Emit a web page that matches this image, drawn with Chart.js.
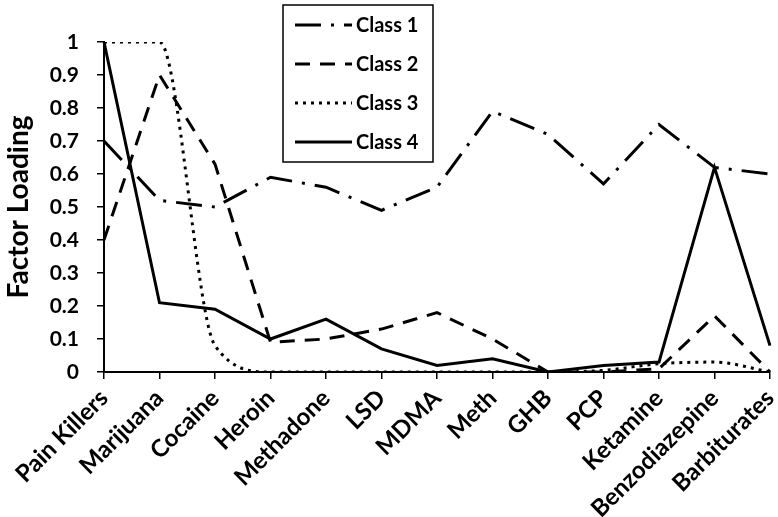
<!DOCTYPE html>
<html>
<head>
<meta charset="utf-8">
<script src="https://cdn.jsdelivr.net/npm/chart.js@4"></script>
<style>
  html, body { margin: 0; padding: 0; background: #fff; }
  #wrap { width: 778px; height: 517px; }
</style>
</head>
<body>
<div id="wrap"><canvas id="myChart" width="778" height="517"></canvas></div>
<script>
var drugs = ['Pain Killers', 'Marijuana', 'Cocaine', 'Heroin', 'Methadone', 'LSD', 'MDMA',
    'Meth', 'GHB', 'PCP', 'Ketamine', 'Benzodiazepine', 'Barbiturates'];
var class1 = [0.70, 0.52, 0.50, 0.59, 0.56, 0.49, 0.56, 0.79, 0.72, 0.57, 0.75, 0.62, 0.60];
var class2 = [0.40, 0.90, 0.63, 0.09, 0.10, 0.13, 0.18, 0.10, 0.00, 0.00, 0.01, 0.17, 0.00];
var class3 = [1.00, 1.00, 0.08, 0.00, 0.00, 0.00, 0.00, 0.00, 0.00, 0.005, 0.025, 0.03, 0.00];
var class4 = [1.00, 0.21, 0.19, 0.10, 0.16, 0.07, 0.02, 0.04, 0.00, 0.02, 0.03, 0.62, 0.08];

var fontName = 'Lato, "Open Sans", sans-serif';

// legend drawn as a box inside the plot, like the original
var boxLegend = {
    id: 'boxLegend',
    afterDraw: function (chart) {
        var c = chart.ctx;
        var x = 283, y = 5, w = 150, h = 157;
        c.save();
        c.fillStyle = '#fff';
        c.fillRect(x, y, w, h);
        c.strokeStyle = '#000';
        c.lineWidth = 1.5;
        c.strokeRect(x, y, w, h);
        chart.data.datasets.forEach(function (ds, i) {
            var ly = y + 20 + i * 39;
            c.beginPath();
            c.setLineDash(ds.borderDash || []);
            c.lineWidth = ds.borderWidth;
            c.strokeStyle = '#000';
            c.moveTo(x + 12, ly);
            c.lineTo(x + 69, ly);
            c.stroke();
            c.setLineDash([]);
            c.fillStyle = '#000';
            c.font = 'bold 20px ' + fontName;
            c.textBaseline = 'middle';
            c.fillText(ds.label, x + 73, ly + 1);
        });
        c.restore();
    }
};

var ctx = document.getElementById('myChart').getContext('2d');
var chart = new Chart(ctx, {
    type: 'line',
    data: {
        labels: drugs,
        datasets: [{
            label: 'Class 1',
            data: class1,
            borderColor: '#000',
            borderWidth: 3,
            borderDash: [26, 10, 3, 10]
        }, {
            label: 'Class 2',
            data: class2,
            borderColor: '#000',
            borderWidth: 3,
            borderDash: [15, 10]
        }, {
            label: 'Class 3',
            data: class3,
            borderColor: '#000',
            borderWidth: 3,
            borderDash: [3, 5],
            cubicInterpolationMode: 'monotone'
        }, {
            label: 'Class 4',
            data: class4,
            borderColor: '#000',
            borderWidth: 3
        }]
    },
    plugins: [boxLegend],
    options: {
        responsive: false,
        animation: false,
        layout: { padding: { top: 42, right: 8, left: 2, bottom: 0 } },
        elements: { point: { radius: 0 } },
        plugins: {
            legend: { display: false },
            tooltip: { enabled: false }
        },
        scales: {
            x: {
                offset: false,
                afterFit: function (scale) {
                    scale.height = 145;
                    scale.paddingRight = 0;
                    scale.paddingLeft = 0;
                },
                grid: { offset: false, drawOnChartArea: false, color: '#000', tickLength: 7, lineWidth: 1.5 },
                border: { color: '#000', width: 2 },
                ticks: {
                    color: '#000',
                    font: { family: fontName, size: 24, weight: 'bold' },
                    maxRotation: 45,
                    minRotation: 45,
                    autoSkip: false,
                    padding: 5
                }
            },
            y: {
                min: 0,
                max: 1,
                afterFit: function (scale) { scale.width = 102; },
                grid: { drawOnChartArea: false, color: '#000', tickLength: 7, lineWidth: 1.5 },
                border: { color: '#000', width: 2 },
                ticks: {
                    stepSize: 0.1,
                    color: '#000',
                    font: { family: fontName, size: 21, weight: 'bold' },
                    padding: 18,
                    callback: function (v) { return String(Math.round(v * 10) / 10); }
                },
                title: {
                    display: true,
                    text: 'Factor Loading',
                    color: '#000',
                    font: { family: fontName, size: 28, weight: 'bold' },
                    padding: { top: 0, bottom: 0 }
                }
            }
        }
    }
});
</script>
</body>
</html>
